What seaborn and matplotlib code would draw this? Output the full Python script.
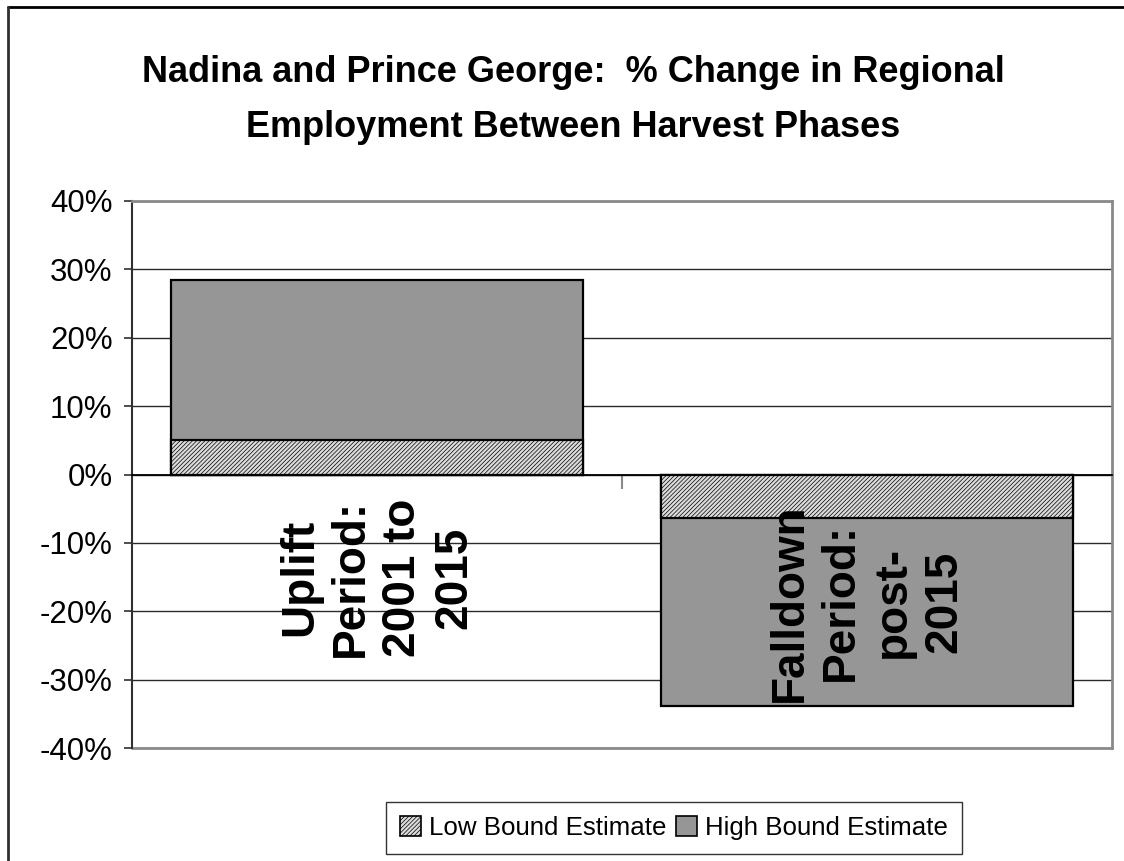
import matplotlib
matplotlib.use("Agg")
import matplotlib.pyplot as plt
from matplotlib.lines import Line2D
from matplotlib.patches import Patch
from matplotlib.ticker import FuncFormatter
import seaborn as sns
import pandas as pd

# Chart data (percent change in regional employment)
periods = ["Uplift\nPeriod:\n2001 to\n2015", "Falldown\nPeriod:\npost-\n2015"]
low_bound = [5.0, -6.3]
high_bound = [28.4, -33.8]
series_names = ["Low Bound Estimate", "High Bound Estimate"]
y_ticks = [-40, -30, -20, -10, 0, 10, 20, 30, 40]
label_y = [-15.1, -18.7]

sns.set_theme(style="white")
plt.rcParams["font.family"] = ["Liberation Sans", "DejaVu Sans"]
plt.rcParams["text.color"] = "black"
plt.rcParams["axes.labelcolor"] = "black"
plt.rcParams["xtick.color"] = "black"
plt.rcParams["ytick.color"] = "black"
plt.rcParams["hatch.linewidth"] = 0.5
plt.rcParams["hatch.color"] = "#7a7a7a"

W, H = 1124, 861
fig = plt.figure(figsize=(W / 100, H / 100), dpi=100)
ax = fig.add_axes([132 / W, 1 - 748 / H, (1112 - 132) / W, (748 - 201) / H])

df_high = pd.DataFrame({"period": periods, "value": high_bound})
df_low = pd.DataFrame({"period": periods, "value": low_bound})

high_color = "#969696"
low_face = "#dcdcdc"
hatch = "////////"
sns.barplot(data=df_high, x="period", y="value", color=high_color,
            width=0.84, edgecolor="black", linewidth=1.6, saturation=1,
            ax=ax, zorder=3)
n_high = len(ax.patches)
sns.barplot(data=df_low, x="period", y="value", color=low_face,
            width=0.84, edgecolor="black", linewidth=1.6, saturation=1,
            ax=ax, zorder=4)
for p in ax.patches[n_high:]:
    p.set_hatch(hatch)
    p.set_edgecolor("black")

# Axes styling
ax.set_xlim(-0.5, 1.5)
ax.set_ylim(-40, 40)
ax.set_yticks(y_ticks)
ax.yaxis.set_major_formatter(FuncFormatter(lambda v, _: f"{v:.0f}%"))
ax.set_xlabel("")
ax.set_ylabel("")
ax.grid(axis="y", color="#2a2a2a", linewidth=1.0, zorder=0)
ax.set_axisbelow(True)
ax.axhline(-40, color="#8a8a8a", linewidth=2, clip_on=False, zorder=1)

ax.spines["left"].set_color("#303030")
ax.spines["left"].set_linewidth(1.5)
for s in ["top", "right"]:
    ax.spines[s].set_color("#8a8a8a")
    ax.spines[s].set_linewidth(2)
ax.spines["bottom"].set_position(("data", 0))
ax.spines["bottom"].set_color("black")
ax.spines["bottom"].set_linewidth(1.3)
ax.spines["bottom"].set_zorder(5)

ax.set_xticks([0.5])
ax.set_xticklabels([""])
ax.tick_params(axis="x", direction="out", length=10, width=1.5,
               color="#8a8a8a", bottom=True)
ax.tick_params(axis="y", direction="out", length=6, width=1.2,
               color="#303030", left=True, labelsize=22.5, pad=8,
               labelcolor="black")

# Category labels, rotated, below the zero line
for i, (lab, yy) in enumerate(zip(periods, label_y)):
    ax.text(i, yy, lab, rotation=90, ha="center", va="center",
            multialignment="center", fontsize=33, fontweight="bold",
            linespacing=1.22, color="black", zorder=6)

# Title
fig.text(573 / W, 1 - 100 / H,
         "Nadina and Prince George:  % Change in Regional\nEmployment Between Harvest Phases",
         ha="center", va="center", fontsize=26, fontweight="bold",
         linespacing=1.72, color="black")

# Legend
handles = [Patch(facecolor=low_face, edgecolor="black", hatch=hatch, linewidth=1.2),
           Patch(facecolor=high_color, edgecolor="black", linewidth=1.2)]
leg = fig.legend(handles, series_names, loc="center",
                 bbox_to_anchor=(674 / W, 1 - 828 / H), ncol=2,
                 fontsize=18.6, frameon=True, fancybox=False,
                 handlelength=0.8, handleheight=0.8, handletextpad=0.3,
                 columnspacing=0.4, borderpad=0.55)
leg.get_frame().set_edgecolor("black")
leg.get_frame().set_linewidth(1.0)

# Outer chart border
fig.add_artist(Line2D([8 / W, 1.0], [1 - 7 / H, 1 - 7 / H], color="black",
                      linewidth=2, transform=fig.transFigure))
fig.add_artist(Line2D([8 / W, 8 / W], [1 - 7 / H, 0.0], color="#303030",
                      linewidth=2, transform=fig.transFigure))

fig.savefig("out.png", dpi=100, facecolor="white")
